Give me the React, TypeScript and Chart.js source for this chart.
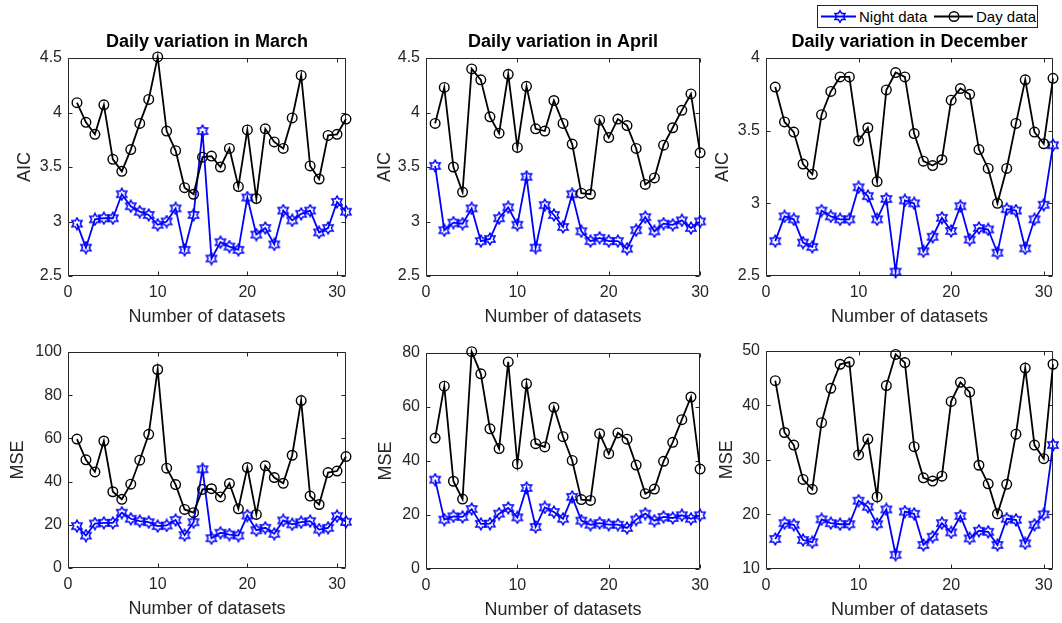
import React, { useEffect, useRef } from "react";
import { Chart, registerables } from "chart.js";

Chart.register(...registerables);

const FONT = '"Liberation Sans", Arial, Helvetica, sans-serif';
const AXIS_COLOR = "#262626";
const NIGHT_COLOR = "#0000FF";
const DAY_COLOR = "#000000";

// ---------- data ----------
const marchAicDay = [4.09, 3.91, 3.8, 4.07, 3.57, 3.46, 3.66, 3.9, 4.12, 4.51, 3.83, 3.65, 3.31, 3.25, 3.59, 3.6, 3.5, 3.67, 3.32, 3.84, 3.21, 3.85, 3.73, 3.67, 3.95, 4.34, 3.51, 3.39, 3.79, 3.8, 3.94];
const marchAicNight = [2.98, 2.76, 3.02, 3.03, 3.03, 3.25, 3.14, 3.09, 3.06, 2.97, 3.0, 3.12, 2.74, 3.06, 3.83, 2.66, 2.81, 2.77, 2.74, 3.22, 2.88, 2.94, 2.79, 3.1, 3.01, 3.07, 3.1, 2.9, 2.94, 3.18, 3.09];
const aprilAicDay = [3.9, 4.23, 3.5, 3.27, 4.4, 4.3, 3.96, 3.81, 4.35, 3.68, 4.24, 3.85, 3.83, 4.11, 3.9, 3.71, 3.26, 3.25, 3.93, 3.77, 3.94, 3.88, 3.67, 3.34, 3.4, 3.7, 3.86, 4.02, 4.17, 3.63];
const aprilAicNight = [3.51, 2.92, 2.99, 2.98, 3.12, 2.82, 2.84, 3.03, 3.13, 2.97, 3.41, 2.76, 3.15, 3.06, 2.95, 3.25, 2.91, 2.82, 2.85, 2.82, 2.82, 2.75, 2.92, 3.04, 2.91, 2.98, 2.97, 3.01, 2.94, 3.0];
const decAicDay = [3.8, 3.56, 3.49, 3.27, 3.2, 3.61, 3.77, 3.87, 3.87, 3.43, 3.52, 3.15, 3.78, 3.9, 3.87, 3.48, 3.29, 3.26, 3.3, 3.71, 3.79, 3.75, 3.37, 3.24, 3.0, 3.24, 3.55, 3.85, 3.49, 3.41, 3.86];
const decAicNight = [2.74, 2.91, 2.89, 2.73, 2.7, 2.95, 2.91, 2.89, 2.89, 3.11, 3.05, 2.89, 3.03, 2.53, 3.02, 3.0, 2.67, 2.77, 2.9, 2.81, 2.98, 2.75, 2.83, 2.82, 2.66, 2.96, 2.95, 2.69, 2.89, 2.99, 3.4];

const marchMseDay = [59.7, 50.1, 44.5, 58.8, 35.3, 31.8, 38.8, 49.9, 61.9, 91.9, 46.2, 38.6, 27.1, 25.6, 36.4, 36.7, 32.9, 39.1, 27.4, 46.5, 24.8, 47.3, 41.9, 39.2, 52.2, 77.5, 33.3, 29.4, 44.2, 44.9, 51.6];
const marchMseNight = [19.4, 15.0, 20.6, 20.9, 20.9, 25.6, 22.8, 21.7, 21.2, 19.4, 19.7, 22.2, 15.2, 21.2, 45.7, 13.8, 16.3, 15.5, 15.0, 24.3, 17.5, 18.6, 15.8, 22.0, 20.2, 21.2, 21.7, 17.8, 18.6, 24.0, 21.4];
const aprilMseDay = [48.5, 67.7, 32.5, 25.9, 80.5, 72.3, 51.9, 44.6, 76.7, 38.9, 68.6, 46.4, 45.2, 59.9, 49.0, 40.2, 25.7, 25.4, 50.1, 42.7, 50.4, 48.1, 38.5, 27.9, 29.6, 39.9, 46.9, 55.3, 63.7, 37.0];
const aprilMseNight = [33.1, 18.3, 19.5, 19.3, 22.2, 16.7, 16.8, 20.5, 22.6, 19.1, 30.0, 15.6, 22.8, 21.1, 18.6, 26.7, 17.9, 16.4, 17.0, 16.4, 16.4, 15.2, 18.3, 20.5, 17.9, 19.3, 18.9, 19.9, 18.6, 19.9];
const decMseDay = [44.5, 35.0, 32.7, 26.4, 24.6, 36.8, 43.1, 47.5, 47.9, 30.9, 33.8, 23.2, 43.6, 49.3, 47.8, 32.4, 26.7, 26.1, 27.0, 40.7, 44.2, 42.4, 29.0, 25.6, 20.1, 25.5, 34.7, 46.8, 32.7, 30.2, 47.5];
const decMseNight = [15.5, 18.4, 18.1, 15.3, 14.9, 19.1, 18.4, 18.2, 18.2, 22.5, 21.4, 18.2, 20.9, 12.6, 20.5, 20.1, 14.4, 15.9, 18.4, 16.7, 19.7, 15.6, 17.0, 16.8, 14.4, 19.2, 19.0, 14.7, 18.1, 20.0, 32.7];

const seriesNames = ["Night data", "Day data"];
const monthTitles = ["Daily variation in March", "Daily variation in April", "Daily variation in December"];
const yTitles = ["AIC", "MSE"];
const xAxisTitle = "Number of datasets";
const xTickValues = [0, 10, 20, 30];
const aicTicksMarApr = [2.5, 3, 3.5, 4, 4.5];
const aicTicksDec = [2.5, 3, 3.5, 4];
const mseTicksMar = [0, 20, 40, 60, 80, 100];
const mseTicksApr = [0, 20, 40, 60, 80];
const mseTicksDec = [10, 20, 30, 40, 50];

// ---------- layout ----------
type Panel = {
  title?: string;
  yTitle: string;
  night: number[];
  day: number[];
  xMax: number;
  yTicks: number[];
  left: number;
  top: number;
  right: number;
  bottom: number;
  canvasTop: number;
  canvasHeight: number;
  canvasRight: number;
  yTitleGap: number;
};

const Y_AXIS_W = 60;
const X_AXIS_H = 52;

const panels: Panel[] = [
  { title: monthTitles[0], yTitle: yTitles[0], night: marchAicNight, day: marchAicDay, xMax: 31, yTicks: aicTicksMarApr, left: 68, top: 58, right: 346, bottom: 276, canvasTop: 0, canvasHeight: 335, canvasRight: 360, yTitleGap: 43 },
  { title: monthTitles[1], yTitle: yTitles[0], night: aprilAicNight, day: aprilAicDay, xMax: 30, yTicks: aicTicksMarApr, left: 426, top: 58, right: 701, bottom: 276, canvasTop: 0, canvasHeight: 335, canvasRight: 716, yTitleGap: 41 },
  { title: monthTitles[2], yTitle: yTitles[0], night: decAicNight, day: decAicDay, xMax: 31, yTicks: aicTicksDec, left: 766, top: 58, right: 1053, bottom: 276, canvasTop: 0, canvasHeight: 335, canvasRight: 1062, yTitleGap: 43 },
  { yTitle: yTitles[1], night: marchMseNight, day: marchMseDay, xMax: 31, yTicks: mseTicksMar, left: 68, top: 352, right: 346, bottom: 568, canvasTop: 335, canvasHeight: 288, canvasRight: 360, yTitleGap: 50 },
  { yTitle: yTitles[1], night: aprilMseNight, day: aprilMseDay, xMax: 30, yTicks: mseTicksApr, left: 426, top: 353, right: 701, bottom: 569, canvasTop: 335, canvasHeight: 288, canvasRight: 716, yTitleGap: 40 },
  { yTitle: yTitles[1], night: decMseNight, day: decMseDay, xMax: 31, yTicks: mseTicksDec, left: 766, top: 349, right: 1053, bottom: 569, canvasTop: 335, canvasHeight: 288, canvasRight: 1062, yTitleGap: 38.5 },
];

function hexagramPoints(cx: number, cy: number, R: number): [number, number][] {
  const r = R / Math.sqrt(3);
  const pts: [number, number][] = [];
  for (let i = 0; i < 12; i++) {
    const ang = -Math.PI / 2 + (i * Math.PI) / 6;
    const rad = i % 2 === 0 ? R : r;
    pts.push([cx + rad * Math.cos(ang), cy + rad * Math.sin(ang)]);
  }
  return pts;
}

function makeHexagram(color: string): HTMLCanvasElement {
  const c = document.createElement("canvas");
  c.width = 14;
  c.height = 14;
  const ctx = c.getContext("2d")!;
  const pts = hexagramPoints(7, 7, 5.8);
  ctx.beginPath();
  pts.forEach(([x, y], i) => (i === 0 ? ctx.moveTo(x, y) : ctx.lineTo(x, y)));
  ctx.closePath();
  ctx.strokeStyle = color;
  ctx.lineWidth = 1.5;
  ctx.stroke();
  return c;
}

function makeFramePlugin(title?: string) {
  return {
    id: "matlabFrame",
    beforeDatasetsDraw(chart: any) {
      const { ctx, chartArea: a, scales } = chart;
      const xs = scales.x;
      const ys = scales.y;
      ctx.save();
      ctx.strokeStyle = AXIS_COLOR;
      ctx.lineWidth = 1;
      const l = Math.round(a.left) + 0.5;
      const r = Math.round(a.right) - 0.5;
      const t = Math.round(a.top) + 0.5;
      const b = Math.round(a.bottom) - 0.5;
      const TL = 4;
      ctx.beginPath();
      ctx.rect(l, t, r - l, b - t);
      xs.ticks.forEach((tk: any) => {
        const px = Math.round(xs.getPixelForValue(tk.value)) + 0.5;
        ctx.moveTo(px, b);
        ctx.lineTo(px, b - TL);
        ctx.moveTo(px, t);
        ctx.lineTo(px, t + TL);
      });
      ys.ticks.forEach((tk: any) => {
        const py = Math.round(ys.getPixelForValue(tk.value)) + 0.5;
        ctx.moveTo(l, py);
        ctx.lineTo(l + TL, py);
        ctx.moveTo(r, py);
        ctx.lineTo(r - TL, py);
      });
      ctx.stroke();
      ctx.restore();
    },
    afterDraw(chart: any) {
      if (!title) return;
      const { ctx, chartArea: a } = chart;
      ctx.save();
      ctx.font = `bold 18px ${FONT}`;
      ctx.fillStyle = "#000";
      ctx.textAlign = "center";
      ctx.textBaseline = "middle";
      ctx.fillText(title, (a.left + a.right) / 2, a.top - 16);
      ctx.restore();
    },
  };
}

function PanelChart({ p }: { p: Panel }) {
  const ref = useRef<HTMLCanvasElement>(null);
  const canvasLeft = p.left - Y_AXIS_W;
  const width = p.canvasRight - canvasLeft;

  useEffect(() => {
    const canvas = ref.current;
    if (!canvas) return;
    const star = makeHexagram(NIGHT_COLOR);
    const tickFont = { family: FONT, size: 16 };
    const titleFont = { family: FONT, size: 18 };
    const chart = new Chart(canvas, {
      type: "line",
      data: {
        datasets: [
          {
            label: seriesNames[1],
            data: p.day.map((v, i) => ({ x: i + 1, y: v })),
            borderColor: DAY_COLOR,
            backgroundColor: DAY_COLOR,
            borderWidth: 1.8,
            pointStyle: "circle",
            pointRadius: 4.8,
            pointBorderColor: DAY_COLOR,
            pointBackgroundColor: "rgba(0,0,0,0)",
            pointBorderWidth: 1.4,
            tension: 0,
            clip: false as any,
            order: 0,
          },
          {
            label: seriesNames[0],
            data: p.night.map((v, i) => ({ x: i + 1, y: v })),
            borderColor: NIGHT_COLOR,
            backgroundColor: NIGHT_COLOR,
            borderWidth: 1.8,
            pointStyle: star as any,
            pointRadius: 5,
            tension: 0,
            clip: false as any,
            order: 1,
          },
        ],
      },
      options: {
        responsive: false,
        animation: false,
        devicePixelRatio: 1,
        layout: {
          padding: {
            left: 0,
            right: p.canvasRight - p.right,
            top: p.top - p.canvasTop,
            bottom: p.canvasTop + p.canvasHeight - p.bottom - X_AXIS_H,
          },
        },
        plugins: {
          legend: { display: false },
          tooltip: { enabled: false },
          title: { display: false },
        },
        scales: {
          x: {
            type: "linear",
            position: "bottom",
            min: 0,
            max: p.xMax,
            grid: { display: false, drawTicks: false },
            border: { display: false },
            afterBuildTicks: (s: any) => {
              s.ticks = xTickValues.map((v) => ({ value: v }));
            },
            afterFit: (s: any) => {
              s.height = X_AXIS_H;
            },
            ticks: {
              color: AXIS_COLOR,
              font: tickFont,
              padding: 7,
              maxRotation: 0,
              autoSkip: false,
              callback: (v: any) => String(v),
            },
            title: {
              display: true,
              text: xAxisTitle,
              color: AXIS_COLOR,
              font: titleFont,
              padding: { top: 0, bottom: 0 },
            },
          },
          y: {
            type: "linear",
            position: "left",
            min: p.yTicks[0],
            max: p.yTicks[p.yTicks.length - 1],
            grid: { display: false, drawTicks: false },
            border: { display: false },
            afterBuildTicks: (s: any) => {
              s.ticks = p.yTicks.map((v) => ({ value: v }));
            },
            afterFit: (s: any) => {
              s.width = Y_AXIS_W;
            },
            ticks: {
              color: AXIS_COLOR,
              font: tickFont,
              padding: 6,
              autoSkip: false,
              callback: (v: any) => String(v),
            },
            title: {
              display: true,
              text: p.yTitle,
              color: AXIS_COLOR,
              font: titleFont,
              padding: { top: Y_AXIS_W - 10.8 - p.yTitleGap, bottom: 0 },
            },
          },
        },
      },
      plugins: [makeFramePlugin(p.title)],
    } as any);
    return () => chart.destroy();
  }, [p]);

  return (
    <canvas
      ref={ref}
      width={width}
      height={p.canvasHeight}
      style={{ position: "absolute", left: canvasLeft, top: p.canvasTop, width, height: p.canvasHeight }}
    />
  );
}

function Legend() {
  const star = hexagramPoints(22, 10.5, 5.8).map(([x, y]) => `${x.toFixed(2)},${y.toFixed(2)}`).join(" ");
  return (
    <div
      style={{
        position: "absolute",
        left: 817,
        top: 5,
        width: 221,
        height: 23,
        boxSizing: "border-box",
        border: `1px solid ${AXIS_COLOR}`,
        background: "#fff",
        fontFamily: FONT,
        fontSize: 15,
        color: "#000",
      }}
    >
      <svg width={219} height={21} style={{ position: "absolute", left: 0, top: 0 }}>
        <line x1={3} y1={10.5} x2={38} y2={10.5} stroke={NIGHT_COLOR} strokeWidth={1.8} />
        <polygon points={star} fill="none" stroke={NIGHT_COLOR} strokeWidth={1.5} />
        <line x1={116} y1={10.5} x2={155} y2={10.5} stroke={DAY_COLOR} strokeWidth={1.8} />
        <circle cx={136} cy={10.5} r={4.8} fill="none" stroke={DAY_COLOR} strokeWidth={1.4} />
      </svg>
      <span style={{ position: "absolute", left: 41, top: 0, lineHeight: "21px", whiteSpace: "nowrap" }}>{seriesNames[0]}</span>
      <span style={{ position: "absolute", left: 158, top: 0, lineHeight: "21px", whiteSpace: "nowrap" }}>{seriesNames[1]}</span>
    </div>
  );
}

export default function App() {
  return (
    <div style={{ position: "absolute", left: 0, top: 0, width: 1062, height: 623, background: "#fff", overflow: "hidden" }}>
      {panels.map((p, i) => (
        <PanelChart key={i} p={p} />
      ))}
      <Legend />
    </div>
  );
}
